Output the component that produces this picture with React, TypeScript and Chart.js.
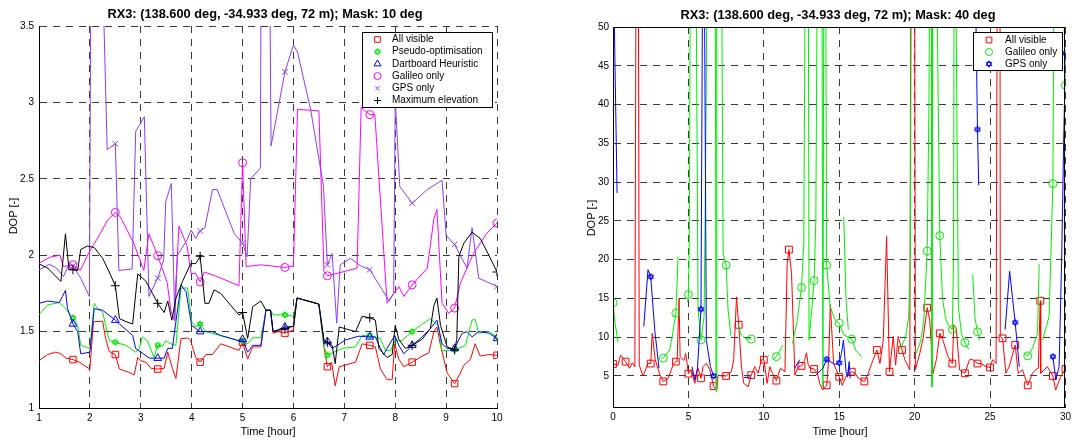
import React, { useEffect, useRef } from 'react';
import { Chart, registerables } from 'chart.js';
import { drawPoint } from 'chart.js/helpers';

Chart.register(...registerables);
Chart.defaults.font.family = 'Arial, "Liberation Sans", sans-serif';

type Pt = [number, number] | null;

// markers are placed every 50 minutes
const MARKER_STEP = 5 / 6;

// ---------- Left chart: Mask 10 deg ----------
const xTicksLeft = [1, 2, 3, 4, 5, 6, 7, 8, 9, 10];
const yTicksLeft = [1, 1.5, 2, 2.5, 3, 3.5];

const allVisible10: Pt[] = [
  [1.0, 1.31], [1.17, 1.35], [1.33, 1.366], [1.43, 1.355], [1.53, 1.326], [1.667, 1.317], [1.79, 1.3], [2.0, 1.255],
  [2.07, 1.564], [2.25, 1.568], [2.31, 1.454], [2.38, 1.37], [2.5, 1.35], [2.58, 1.255], [2.77, 1.233], [2.87, 1.216],
  [2.94, 1.33], [3.0, 1.31], [3.1, 1.3], [3.2, 1.26], [3.333, 1.255], [3.46, 1.26], [3.53, 1.366], [3.62, 1.26],
  [3.69, 1.194], [3.79, 1.454], [3.92, 1.458], [3.98, 1.44], [4.08, 1.33], [4.167, 1.3], [4.28, 1.35], [4.41, 1.35],
  [4.57, 1.42], [4.74, 1.4], [4.93, 1.377], [5.0, 1.43], [5.1, 1.32], [5.2, 1.4], [5.36, 1.4], [5.46, 1.64],
  [5.55, 1.64], [5.6, 1.49], [5.7, 1.5], [5.833, 1.49], [6.0, 1.51], [6.07, 1.72], [6.5, 1.68], [6.6, 1.4],
  [6.667, 1.27], [6.75, 1.3], [6.82, 1.145], [6.9, 1.27], [7.22, 1.3], [7.35, 1.42], [7.5, 1.41], [7.61, 1.4],
  [7.71, 1.255], [7.84, 1.185], [7.94, 1.185], [7.99, 1.42], [8.07, 1.32], [8.17, 1.27], [8.333, 1.3], [8.53, 1.34],
  [8.66, 1.36], [8.76, 1.5], [8.82, 1.53], [8.89, 1.41], [9.02, 1.23], [9.167, 1.16], [9.25, 1.21], [9.35, 1.28],
  [9.48, 1.32], [9.57, 1.42], [9.67, 1.34], [9.84, 1.35], [10.0, 1.345],
];

const pseudoOpt10: Pt[] = [
  [1.0, 1.61], [1.17, 1.675], [1.4, 1.69], [1.5, 1.66], [1.59, 1.62], [1.667, 1.59], [1.76, 1.54], [1.82, 1.41],
  [2.0, 1.39], [2.085, 1.685], [2.15, 1.65], [2.25, 1.63], [2.31, 1.54], [2.38, 1.44], [2.5, 1.43], [2.71, 1.41],
  [2.9, 1.365], [2.97, 1.39], [3.03, 1.465], [3.13, 1.44], [3.26, 1.33], [3.333, 1.41], [3.43, 1.405], [3.49, 1.44],
  [3.59, 1.42], [3.69, 1.41], [3.79, 1.785], [3.92, 1.785], [4.0, 1.565], [4.08, 1.53], [4.167, 1.55], [4.28, 1.5],
  [4.93, 1.44], [5.0, 1.44], [5.1, 1.42], [5.2, 1.46], [5.36, 1.46], [5.46, 1.64], [5.55, 1.64], [5.6, 1.61],
  [5.833, 1.61], [6.0, 1.6], [6.07, 1.72], [6.5, 1.68], [6.6, 1.4], [6.667, 1.345], [6.76, 1.36], [6.96, 1.39],
  [7.22, 1.4], [7.35, 1.475], [7.5, 1.475], [7.71, 1.455], [7.81, 1.375], [7.91, 1.375], [7.99, 1.44], [8.13, 1.44],
  [8.333, 1.5], [8.49, 1.54], [8.69, 1.585], [8.85, 1.54], [8.92, 1.375], [9.167, 1.38], [9.38, 1.41], [9.51, 1.575],
  [9.57, 1.58], [9.64, 1.49], [9.84, 1.5], [10.0, 1.465],
];

const dartboard10: Pt[] = [
  [1.0, 1.685], [1.17, 1.7], [1.4, 1.69], [1.46, 1.73], [1.52, 1.77], [1.56, 1.65], [1.667, 1.55], [1.76, 1.5],
  [1.82, 1.355], [2.0, 1.365], [2.085, 1.65], [2.25, 1.64], [2.5, 1.575], [2.58, 1.55], [2.84, 1.475], [2.9, 1.39],
  [3.17, 1.326], [3.333, 1.326], [3.46, 1.326], [3.53, 1.39], [3.62, 1.39], [3.69, 1.565], [3.79, 1.806], [3.89, 1.76],
  [4.0, 1.54], [4.08, 1.52], [4.167, 1.5], [4.28, 1.5], [4.41, 1.5], [4.57, 1.475], [4.93, 1.44], [5.0, 1.45],
  [5.1, 1.365], [5.2, 1.41], [5.36, 1.41], [5.46, 1.64], [5.55, 1.64], [5.6, 1.5], [5.833, 1.53], [6.0, 1.535],
  [6.07, 1.72], [6.5, 1.68], [6.6, 1.44], [6.667, 1.435], [6.76, 1.39], [6.86, 1.41], [7.02, 1.445], [7.28, 1.47],
  [7.5, 1.465], [7.61, 1.465], [7.71, 1.39], [7.77, 1.35], [7.84, 1.39], [7.99, 1.475], [8.07, 1.41], [8.17, 1.355],
  [8.333, 1.41], [8.53, 1.465], [8.69, 1.52], [8.82, 1.575], [8.92, 1.42], [9.02, 1.39], [9.167, 1.39], [9.31, 1.487],
  [9.41, 1.5], [9.51, 1.465], [9.64, 1.5], [9.84, 1.49], [10.0, 1.455],
];

const galileo10: Pt[] = [
  [1.0, 1.948], [1.22, 1.987], [1.41, 2.0], [1.48, 1.926], [1.667, 1.937], [1.81, 1.9], [1.97, 2.01], [2.2, 2.14],
  [2.35, 2.23], [2.5, 2.28], [2.6, 2.25], [2.86, 2.08], [3.06, 1.9], [3.16, 2.14], [3.333, 1.996], [3.52, 1.82],
  [3.59, 1.64], [3.65, 1.58], [3.75, 2.19], [3.91, 2.06], [3.99, 1.88], [4.08, 1.88], [4.167, 1.825], [4.25, 1.89],
  [4.5, 1.86], [4.93, 1.8], [5.0, 2.605], [5.07, 1.926], [5.36, 1.937], [5.833, 1.92], [6.0, 1.93], [6.08, 2.954],
  [6.5, 2.945], [6.6, 1.893], [6.667, 1.865], [7.25, 1.915], [7.33, 2.967], [7.5, 2.92], [7.6, 2.92], [7.84, 1.686],
  [7.97, 1.75], [8.07, 1.795], [8.17, 1.73], [8.333, 1.806], [8.63, 1.915], [8.76, 2.24], [8.82, 2.3], [8.92, 1.686],
  [9.05, 1.62], [9.167, 1.654], [9.28, 1.817], [9.54, 2.013], [9.8, 2.144], [10.0, 2.21],
];

const gps10: Pt[] = [
  [1.0, 1.904], [1.2, 1.94], [1.33, 1.92], [1.48, 1.86], [1.59, 1.94], [1.667, 1.93], [1.82, 1.85], [1.99, 1.73],
  [2.03, 4.5], [2.2, 4.5], [2.34, 2.69], [2.5, 2.73], [2.57, 1.9], [2.83, 1.91], [2.9, 2.81], [3.07, 2.906],
  [3.16, 1.73], [3.333, 1.85], [3.45, 1.97], [3.49, 2.35], [3.6, 2.47], [3.67, 1.57], [3.72, 2.0], [3.91, 2.1],
  [3.99, 2.165], [4.08, 2.11], [4.167, 2.16], [4.26, 2.18], [4.41, 2.43], [4.5, 2.43], [4.84, 2.14], [5.0, 2.08],
  [5.09, 1.99], [5.16, 2.5], [5.35, 2.57], [5.37, 4.5], [5.52, 4.5], [5.56, 2.715], [5.833, 3.2], [6.0, 3.375],
  [6.08, 3.33], [6.34, 2.95], [6.59, 2.45], [6.667, 1.937], [6.76, 2.01], [6.85, 1.555], [6.92, 1.937], [7.12, 1.98],
  [7.32, 1.93], [7.5, 1.905], [7.88, 1.7], [7.97, 1.75], [8.0, 3.02], [8.09, 2.45], [8.333, 2.34], [8.63, 2.43],
  [8.92, 2.49], [9.0, 2.13], [9.167, 2.07], [9.41, 1.915], [9.51, 2.18], [9.64, 1.85], [10.0, 1.795],
];

const maxElev10: Pt[] = [
  [1.0, 1.943], [1.17, 1.916], [1.43, 1.828], [1.52, 2.14], [1.59, 1.905], [1.667, 1.905], [1.76, 1.9], [1.82, 2.037],
  [1.95, 2.06], [2.085, 2.05], [2.25, 1.98], [2.38, 1.89], [2.5, 1.8], [2.58, 1.585], [2.71, 1.565], [2.84, 1.55],
  [2.94, 1.877], [3.0, 1.86], [3.1, 1.83], [3.23, 1.75], [3.333, 1.685], [3.46, 1.625], [3.53, 1.7], [3.61, 1.575],
  [3.69, 1.718], [3.82, 1.828], [3.98, 1.945], [4.08, 1.945], [4.167, 1.993], [4.26, 1.685], [4.34, 1.685], [4.44, 1.773],
  [4.57, 1.75], [4.93, 1.608], [5.0, 1.625], [5.1, 1.455], [5.2, 1.663], [5.36, 1.7], [5.46, 1.64], [5.55, 1.64],
  [5.6, 1.5], [5.833, 1.52], [6.0, 1.535], [6.07, 1.72], [6.5, 1.68], [6.6, 1.44], [6.667, 1.43], [6.76, 1.41],
  [6.82, 1.29], [6.9, 1.53], [7.22, 1.5], [7.35, 1.6], [7.5, 1.59], [7.61, 1.575], [7.68, 1.39], [7.84, 1.33],
  [7.94, 1.35], [8.0, 1.54], [8.07, 1.45], [8.2, 1.39], [8.333, 1.41], [8.53, 1.45], [8.69, 1.52], [8.76, 1.67],
  [8.82, 1.72], [8.89, 1.54], [9.02, 1.4], [9.167, 1.38], [9.21, 1.45], [9.25, 1.99], [9.35, 2.08], [9.51, 2.15],
  [9.67, 2.11], [9.84, 2.0], [10.0, 1.89],
];

// ---------- Right chart: Mask 40 deg ----------
const xTicksRight = [0, 5, 10, 15, 20, 25, 30];
const yTicksRight = [5, 10, 15, 20, 25, 30, 35, 40, 45, 50];

const allVisible40: Pt[] = [
  [0, 6.55], [0.33, 6.4], [0.5, 7.7], [0.833, 6.85], [1.1, 6.0], [1.28, 6.7], [1.45, 6.2], [1.53, 60], [1.68, 60],
  [1.74, 6.4], [1.99, 5.0], [2.32, 6.6], [2.5, 6.6], [2.6, 10.5], [2.8, 7.1], [3.1, 5.2], [3.333, 4.3], [3.65, 4.7],
  [3.87, 5.8], [4.0, 6.5], [4.167, 6.85], [4.25, 6.85], [4.38, 15], [4.45, 7.5], [4.7, 7.0], [4.82, 7.9], [5.0, 5.3],
  [5.2, 5.8], [5.42, 4.05], [5.64, 6.0], [5.833, 4.7], [5.97, 6.2], [6.19, 6.65], [6.42, 5.8], [6.667, 3.7], [6.86, 3.2],
  [6.97, 5.1], [7.2, 5.0], [7.5, 5.0], [7.85, 5.55], [8.0, 7.1], [8.19, 15.2], [8.333, 11.6], [8.52, 6.2], [8.67, 4.05],
  [8.96, 3.6], [9.167, 5.1], [9.4, 6.2], [9.62, 5.35], [9.85, 7.1], [10.0, 7.1], [10.22, 4.05], [10.4, 6.2], [10.58, 5.35],
  [10.833, 4.4], [11.1, 6.0], [11.4, 5.55], [11.55, 19.5], [11.667, 21.3], [11.84, 18.2], [12.06, 5.1], [12.28, 6.2],
  [12.5, 6.3], [12.7, 7.0], [12.83, 8.0], [12.94, 6.5], [13.05, 6.0], [13.333, 5.9], [13.55, 5.35], [13.7, 4.05],
  [13.9, 3.2], [14.167, 3.8], [14.3, 7.0], [14.41, 14.2], [14.63, 6.6], [15.0, 4.9], [15.2, 3.8], [15.5, 5.1],
  [15.833, 5.55], [16.05, 5.35], [16.27, 4.7], [16.667, 4.3], [16.93, 5.35], [17.15, 6.6], [17.5, 8.35], [17.7, 6.6],
  [17.92, 9.6], [18.14, 23.0], [18.333, 5.55], [18.58, 10.1], [18.74, 6.4], [18.91, 10.1], [19.167, 8.35], [19.35, 7.1],
  [19.68, 5.8], [19.75, 60], [20.0, 60], [20.05, 5.8], [20.34, 7.9], [20.56, 9.85], [20.833, 13.8], [21.0, 12.2],
  [21.22, 5.35], [21.44, 7.1], [21.667, 10.5], [21.88, 9.6], [22.21, 7.5], [22.5, 6.6], [22.6, 11.6], [22.76, 11.15],
  [22.98, 5.8], [23.333, 5.35], [23.64, 7.1], [23.86, 7.1], [24.167, 6.6], [24.4, 6.6], [24.74, 6.2], [25.0, 6.1],
  [25.17, 7.1], [25.4, 6.6], [25.48, 60], [25.66, 60], [25.68, 10.1], [25.833, 9.85], [26.05, 5.35], [26.27, 6.2],
  [26.667, 9.0], [26.87, 5.35], [27.15, 5.8], [27.5, 3.8], [27.81, 5.35], [28.03, 5.8], [28.2, 6.0], [28.333, 14.7],
  [28.36, 5.35], [28.8, 6.2], [29.167, 5.0], [29.35, 3.2], [29.68, 4.9], [30.0, 5.9],
];

const galileo40: Pt[] = [
  [0, 14.45], [0.11, 12.2], [0.33, 9.4], null,
  [3.2, 7.3], [3.333, 7.3], [3.76, 8.35], [4.0, 11.0], [4.167, 13.1], [4.25, 17.0], [4.31, 20.4], null,
  [4.95, 14.5], [5.0, 15.5], [5.06, 22], [5.13, 60], [5.5, 60], [5.64, 13.5], [5.833, 9.65], [6.04, 12.7], [6.13, 29.4],
  [6.25, 60], [6.78, 60], [6.83, 3.0], [6.88, 60], [7.2, 60], [7.3, 20.8], [7.5, 19.3], [7.63, 13.5], [7.82, 10.2], null,
  [8.3, 11.5], [8.5, 10.3], [8.8, 9.8], [9.167, 9.75], null,
  [10.3, 7.6], [10.32, 7.7], null,
  [10.6, 7.1], [10.833, 7.5], [11.28, 9.0], null,
  [11.9, 9.2], [12.2, 12.0], [12.5, 16.4], [12.65, 22], [12.75, 60], [12.95, 60], [13.0, 9.65], [13.2, 14.0],
  [13.333, 17.3], [13.45, 25], [13.55, 60], [13.85, 60], [13.92, 3.6], [13.98, 60], [14.1, 60], [14.167, 19.3],
  [14.4, 14.0], [14.7, 12.3], [15.0, 11.8], [15.3, 10.3], [15.833, 9.74], [16.1, 8.3], [16.48, 7.5], null,
  [15.3, 25.5], [15.45, 15.0], [15.6, 11.0], null,
  [18.95, 8.4], [19.1, 8.7], [19.4, 10.0], [19.6, 12.5], [19.72, 20], [19.78, 60], null,
  [20.1, 7.9], [20.4, 9.5], [20.6, 12.0], [20.833, 21.1], [20.95, 40], [21.0, 60], [21.1, 60], [21.15, 3.6], [21.2, 60],
  [21.45, 60], [21.667, 23.1], [21.85, 15.0], [22.05, 12.5], [22.25, 11.5], [22.5, 11.0], [22.58, 20], [22.62, 60],
  [22.72, 60], [22.9, 14.0], [23.1, 10.5], [23.333, 9.3], [23.6, 8.4], null,
  [23.85, 18.1], [24.0, 12.5], [24.167, 10.7], [24.3, 9.65], null,
  [27.3, 7.8], [27.5, 7.6], [27.82, 8.6], [28.15, 10.5], [28.26, 19.4], null,
  [28.48, 9.65], [28.75, 11.5], [28.92, 12.7], [29.167, 29.8], [29.25, 60], [29.8, 60], [30.0, 42.5],
];

const gps40: Pt[] = [
  [0.03, 60], [0.1, 49], [0.27, 28.6], null,
  [2.04, 11.4], [2.32, 18.7], [2.5, 17.8], [2.77, 10.9], [3.05, 6.0], null,
  [5.24, 6.2], [5.42, 4.5], [5.6, 6.0], [5.833, 13.6], [5.95, 60], [6.05, 60], [6.19, 9.6], [6.46, 6.2], [6.667, 5.0], null,
  [8.7, 4.8], [9.1, 4.85], null,
  [12.05, 6.0], [12.38, 7.1], null,
  [13.44, 5.1], [13.92, 6.0], [14.167, 7.15], [14.45, 6.8], [14.7, 6.5], [15.0, 6.7], [15.15, 7.9], [15.28, 9.6],
  [15.45, 5.6], [15.55, 4.9], [15.66, 6.85], [15.73, 4.7], null,
  [16.9, 5.0], [17.05, 5.3], null,
  [24.0, 60], [24.167, 36.8], [24.25, 29.6], null,
  [26.0, 11.0], [26.3, 18.5], [26.667, 11.9], [26.94, 6.2], null,
  [29.167, 7.5], [29.36, 4.5], [29.58, 6.2], [29.75, 20], [29.88, 35], [30.0, 46.6],
];

// ---------- helpers ----------
const isMarker = (x: number) => {
  const k = x / MARKER_STEP;
  return Math.abs(k - Math.round(k)) < 0.006;
};

const toData = (pts: Pt[]) => {
  const out: { x: number; y: number | null }[] = [];
  let lastX = 0;
  for (const p of pts) {
    if (p) {
      out.push({ x: p[0], y: p[1] });
      lastX = p[0];
    } else {
      out.push({ x: lastX, y: null });
    }
  }
  return out;
};

function makeHexagram(color: string, size: number): HTMLCanvasElement {
  const c = document.createElement('canvas');
  c.width = size;
  c.height = size;
  const g = c.getContext('2d')!;
  g.strokeStyle = color;
  g.lineWidth = 1;
  const cx = size / 2, cy = size / 2, r = size / 2 - 0.8;
  for (const rot of [-Math.PI / 2, Math.PI / 2]) {
    g.beginPath();
    for (let i = 0; i < 3; i++) {
      const a = rot + (i * 2 * Math.PI) / 3;
      const px = cx + r * Math.cos(a), py = cy + r * Math.sin(a);
      if (i === 0) g.moveTo(px, py); else g.lineTo(px, py);
    }
    g.closePath();
    g.stroke();
  }
  return c;
}

type SeriesDef = { label: string; pts: Pt[]; color: string; style: any; r: number; lr: number; order: number };

function makeDataset(s: SeriesDef) {
  return {
    label: s.label,
    data: toData(s.pts),
    borderColor: s.color,
    backgroundColor: s.color,
    borderWidth: 1,
    fill: false,
    tension: 0,
    spanGaps: false,
    order: s.order,
    pointStyle: s.style,
    pointBorderColor: s.color,
    pointBackgroundColor: 'rgba(0,0,0,0)',
    pointBorderWidth: 1,
    pointRadius: (c: any) => {
      const raw = c.raw;
      return raw && raw.y !== null && isMarker(raw.x) ? s.r : 0;
    },
    pointHoverRadius: 0,
  };
}

type Decor = {
  title: string; titleX: number; titleY: number;
  xlabX: number; xlabY: number; ylabX: number; ylabY: number;
  frame: boolean;
  legend: { x: number; y: number; w: number; h: number; first: number; step: number; markX: number; textX: number };
  series: SeriesDef[];
};

function decorPlugin(cfg: Decor) {
  return {
    id: 'decor',
    afterDraw(chart: any) {
      const ctx: CanvasRenderingContext2D = chart.ctx;
      const a = chart.chartArea;
      ctx.save();
      if (cfg.frame) {
        ctx.strokeStyle = '#000';
        ctx.lineWidth = 1;
        ctx.setLineDash([]);
        ctx.strokeRect(Math.round(a.left) + 0.5, Math.round(a.top) + 0.5, Math.round(a.right - a.left) - 1, Math.round(a.bottom - a.top));
      }
      ctx.fillStyle = '#000';
      ctx.textAlign = 'center';
      ctx.textBaseline = 'middle';
      ctx.font = 'bold 12.8px Arial, "Liberation Sans", sans-serif';
      ctx.fillText(cfg.title, cfg.titleX, cfg.titleY);
      ctx.font = '11px Arial, "Liberation Sans", sans-serif';
      ctx.fillText('Time [hour]', cfg.xlabX, cfg.xlabY);
      ctx.save();
      ctx.translate(cfg.ylabX, cfg.ylabY);
      ctx.rotate(-Math.PI / 2);
      ctx.fillText('DOP [-]', 0, 0);
      ctx.restore();

      const L = cfg.legend;
      ctx.fillStyle = '#fff';
      ctx.fillRect(L.x, L.y, L.w, L.h);
      ctx.strokeStyle = '#000';
      ctx.lineWidth = 1;
      ctx.strokeRect(L.x + 0.5, L.y + 0.5, L.w, L.h);
      ctx.font = '10px Arial, "Liberation Sans", sans-serif';
      ctx.textAlign = 'left';
      cfg.series.forEach((s, i) => {
        const y = L.y + L.first + i * L.step;
        ctx.save();
        ctx.strokeStyle = s.color;
        ctx.fillStyle = 'rgba(0,0,0,0)';
        ctx.lineWidth = 1;
        drawPoint(ctx, { pointStyle: s.style, radius: s.lr, rotation: 0, borderWidth: 1 } as any, L.markX, y);
        ctx.restore();
        ctx.fillStyle = '#000';
        ctx.fillText(s.label, L.textX, y);
      });
      ctx.restore();
    },
  };
}

function axisOptions(min: number, max: number, ticks: number[], pad: number, fitKey: 'width' | 'height', fitVal: number) {
  return {
    type: 'linear' as const,
    min,
    max,
    afterBuildTicks: (s: any) => {
      s.ticks = ticks.map((v) => ({ value: v }));
    },
    afterFit: (s: any) => {
      s[fitKey] = fitVal;
    },
    ticks: {
      color: '#000',
      font: { size: 10 },
      padding: pad,
      autoSkip: false,
      maxRotation: 0,
      callback: (v: any) => String(v),
    },
    grid: { color: '#3a3a3a', lineWidth: 1, drawTicks: false },
    border: { display: true, color: '#000', width: 1, dash: [7, 6] },
  };
}

function buildChart(canvas: HTMLCanvasElement, series: SeriesDef[], decor: Decor, opts: any) {
  return new Chart(canvas, {
    type: 'line',
    data: { datasets: series.map(makeDataset) as any },
    options: {
      responsive: false,
      maintainAspectRatio: false,
      animation: false,
      events: [],
      layout: { padding: opts.padding },
      plugins: { legend: { display: false }, title: { display: false }, tooltip: { enabled: false } },
      scales: { x: opts.x, y: opts.y },
    } as any,
    plugins: [decorPlugin(decor)],
  });
}

export default function App() {
  const leftRef = useRef<HTMLCanvasElement>(null);
  const rightRef = useRef<HTMLCanvasElement>(null);

  useEffect(() => {
    const hexGreen = makeHexagram('#00dd00', 8);
    const hexBlue = makeHexagram('#0000ff', 8);

    const leftSeries: SeriesDef[] = [
      { label: 'All visible', pts: allVisible10, color: '#ff0000', style: 'rect', r: 4.6, lr: 4, order: 6 },
      { label: 'Pseudo-optimisation', pts: pseudoOpt10, color: '#00ee00', style: hexGreen, r: 4, lr: 3.5, order: 5 },
      { label: 'Dartboard Heuristic', pts: dartboard10, color: '#0000ff', style: 'triangle', r: 4.5, lr: 4, order: 4 },
      { label: 'Galileo only', pts: galileo10, color: '#ff00ff', style: 'circle', r: 4, lr: 3.5, order: 3 },
      { label: 'GPS only', pts: gps10, color: '#8b3df5', style: 'crossRot', r: 4, lr: 3, order: 2 },
      { label: 'Maximum elevation', pts: maxElev10, color: '#000000', style: 'cross', r: 4.5, lr: 3.5, order: 1 },
    ];
    const rightSeries: SeriesDef[] = [
      { label: 'All visible', pts: allVisible40, color: '#ff0000', style: 'rect', r: 4.8, lr: 4, order: 3 },
      { label: 'Galileo only', pts: galileo40, color: '#00ee00', style: 'circle', r: 4, lr: 3.5, order: 2 },
      { label: 'GPS only', pts: gps40, color: '#0000ff', style: hexBlue, r: 4, lr: 3.5, order: 1 },
    ];

    const left = buildChart(
      leftRef.current!,
      leftSeries,
      {
        title: 'RX3: (138.600 deg, -34.933 deg, 72 m); Mask: 10 deg',
        titleX: 265, titleY: 14,
        xlabX: 268, xlabY: 432, ylabX: 14, ylabY: 216,
        frame: false,
        legend: { x: 362, y: 32, w: 130, h: 75, first: 7.5, step: 12.2, markX: 377.5, textX: 392 },
        series: leftSeries,
      },
      {
        padding: { top: 26, right: 43, bottom: 0, left: 0 },
        x: axisOptions(1, 10, xTicksLeft, 4, 'height', 32),
        y: axisOptions(1, 3.5, yTicksLeft, 5, 'width', 39),
      }
    );

    const right = buildChart(
      rightRef.current!,
      rightSeries,
      {
        title: 'RX3: (138.600 deg, -34.933 deg, 72 m); Mask: 40 deg',
        titleX: 298, titleY: 15,
        xlabX: 300, xlabY: 432, ylabX: 52, ylabY: 218,
        frame: true,
        legend: { x: 433, y: 32, w: 89, h: 38, first: 8, step: 12, markX: 449, textX: 465 },
        series: rightSeries,
      },
      {
        padding: { top: 27, right: 7, bottom: 0, left: 0 },
        x: axisOptions(0, 30, xTicksRight, 4, 'height', 33),
        y: axisOptions(1, 50, yTicksRight, 4, 'width', 73),
      }
    );

    return () => {
      left.destroy();
      right.destroy();
    };
  }, []);

  return (
    <div style={{ position: 'fixed', left: 0, top: 0, width: 1075, height: 440, background: '#fff' }}>
      <canvas ref={leftRef} width={540} height={440} style={{ position: 'absolute', left: 0, top: 0, width: 540, height: 440 }} />
      <canvas ref={rightRef} width={535} height={440} style={{ position: 'absolute', left: 540, top: 0, width: 535, height: 440 }} />
    </div>
  );
}
